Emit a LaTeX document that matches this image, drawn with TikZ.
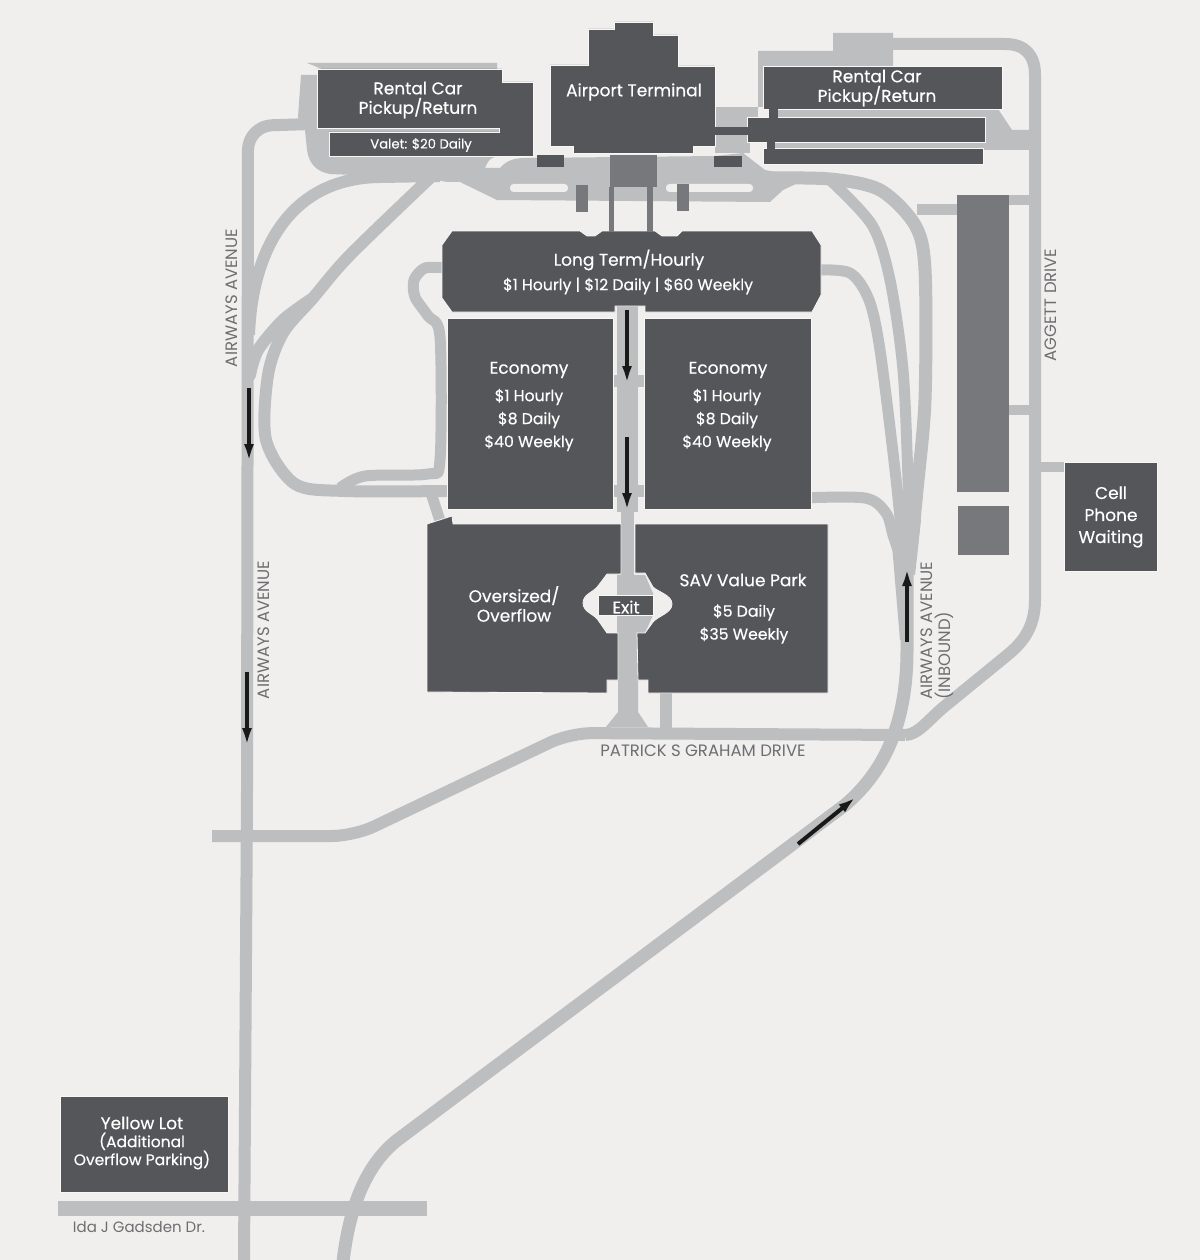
\documentclass[tikz,border=0pt]{standalone}
\usepackage{fontspec}
\setmainfont{Poppins}
\newfontfamily\lotfont[FakeBold=0.35]{Poppins}
\usetikzlibrary{arrows.meta}
\definecolor{mapbg}{HTML}{F0EFED}
\definecolor{roadgray}{HTML}{BCBEC0}
\definecolor{darkblock}{HTML}{55565A}
\definecolor{midblock}{HTML}{77787B}
\definecolor{streettext}{HTML}{6D6E71}
\tikzset{
  road/.style={draw=roadgray, line width=12pt, line join=round},
  plaza/.style={fill=roadgray},
  hole/.style={fill=mapbg},
  block/.style={fill=darkblock, draw=white!50!mapbg, line width=0.8pt},
  greyblock/.style={fill=midblock},
  oneway/.style={draw=black!90, line width=4pt, -{Latex[length=18pt,width=10pt]}},
  lotlabel/.style={text=white, align=center, font=\lotfont\fontsize{17}{19.5}\selectfont},
  pricelabel/.style={text=white, align=center, font=\lotfont\fontsize{15.7}{23}\selectfont},
  streetlabel/.style={text=streettext, font=\fontsize{16.5}{18}\selectfont}
}
\begin{document}
\begin{tikzpicture}[x=1pt,y=-1pt]
  \useasboundingbox[fill=mapbg] (0,0) rectangle (1200,1260);
  % roads
  \draw[road, rounded corners=24pt] (244,1260) -- (247,800) -- (248,126) -- (312,124);
  \draw[road] (249,335) .. controls (252,250) and (290,178) .. (380,177) -- (440,176);
  \draw[road, line cap=round] plot[smooth] coordinates {(250,375) (258,350) (283,320) (313,298)};
  \draw[road] plot[smooth] coordinates {(447,491) (345,491) (295,484) (266,440) (268,375) (283,333) (313,298) (350,255) (432,176)};
  \draw[road, line width=11pt] plot[smooth] coordinates {(445,268) (425,268) (414,280) (415,297) (428,316) (440,337) (440,460) (428,474) (365,476) (340,488)};
  \draw[road, line width=11pt] (431,493) -- (441,524);
  % inbound road
  \draw[road, line width=13pt] (343,1262) .. controls (350,1200) and (370,1160) .. (400,1138) -- (845,805)
    .. controls (880,775) and (907,730) .. (907,650) -- (907,560);
  \draw[road, line width=11pt] plot[smooth] coordinates {(800,498) (865,498) (886,513) (893,535) (898,550)};
  \draw[road, line width=11pt] plot[smooth] coordinates {(815,270) (850,273) (869,300) (880,350) (895,470) (904,560)};
  \draw[road, line width=11pt] plot[smooth] coordinates {(830,180) (872,225) (890,280) (903,370) (908,480) (910,560)};
  \draw[road, line width=13pt] plot[smooth] coordinates {(760,178) (830,179) (880,190) (915,225) (925,270) (925,400) (917,490) (910,560)};
  \fill[plaza] (900,570) -- (908,500) -- (921,520) -- (915,575) -- cycle;
  \fill[plaza] (892,545) -- (902,545) -- (907,640) -- (900,640) -- cycle;
  % agett and patrick
  \draw[road] (880,44) -- (1005,44) .. controls (1025,44) and (1035,55) .. (1035,75) -- (1035,600)
    .. controls (1035,630) and (1020,645) .. (1005,657) -- (945,706) .. controls (929,719) and (918,735) .. (905,735);
  \draw[road, rounded corners=22pt] (905,735) -- (570,733) -- (354,836) -- (212,836);
  \draw[road, line width=15pt] (58,1208) -- (427,1208);
  \draw[road, line width=11pt] (917,209) -- (960,209);
  \draw[road, line width=10pt] (1005,200) -- (1032,200);
  \draw[road, line width=10pt] (1005,410) -- (1032,410);
  \draw[road, line width=10pt] (1038,467) -- (1066,467);
  % terminal plaza
  \fill[plaza] (307,63) -- (497,63) -- (497,75) -- (301,75) -- (298,117) -- (305,130) -- (307,150)
    .. controls (309,165) and (318,172) .. (330,174) -- (427,178) -- (447,182) -- (460,182) -- (497,200) -- (770,202) -- (783,190) -- (800,182)
    -- (775,172) -- (765,170) -- (743,153) -- (715,156) -- (525,158) .. controls (515,158) and (507,160) .. (500,168)
    -- (485,168) .. controls (488,161) and (490,158) .. (495,157) -- (520,130) -- (400,100) -- cycle;
  \fill[hole, rounded corners=3.5pt] (510,184) rectangle (568,192);
  \fill[hole, rounded corners=3.5pt] (666,184) rectangle (753,192);
  \fill[plaza] (758,51) -- (833,51) -- (833,33) -- (893,33) -- (893,70) -- (763,70) -- (763,107) -- (758,107) -- cycle;
  \fill[plaza] (715,107) -- (758,107) -- (758,130) -- (715,130) -- cycle;
  \fill[plaza] (715,133) -- (750,133) -- (750,153) -- (715,153) -- cycle;
  \fill[plaza] (775,109) -- (998,109) -- (1012,130) -- (1030,130) -- (1030,150) -- (775,150) -- cycle;
  % center drive
  \fill[plaza] (617,306) rectangle (638,512);
  \foreach \yy in {375,485} {
    \fill[plaza] (610,\yy) rectangle (647,\yy+12);
  }
  \fill[plaza] (621,512) rectangle (634,576);
  \fill[plaza] (617,575) -- (645,575) -- (653,593) -- (653,615) -- (645,633) -- (617,633) -- cycle;
  \fill[plaza] (618,633) -- (638,633) -- (638,712) -- (648,727) -- (606,727) -- (618,712) -- cycle;
  \fill[plaza] (660,690) rectangle (672,730);
  % lots
  \filldraw[block] (550,65) -- (588,65) -- (588,29) -- (614,29) -- (614,22) -- (653,22) -- (653,35) -- (678,35) -- (678,66)
    -- (715,66) -- (715,146) -- (693,146) -- (693,153) -- (573,153) -- (573,146) -- (550,146) -- cycle;
  \filldraw[block] (317,69) -- (502,69) -- (502,82) -- (533,82) -- (533,156) -- (329,156) -- (329,132) -- (499,132)
    -- (499,128) -- (317,128) -- cycle;
  \filldraw[block] (763,66) rectangle (1002,109);
  \filldraw[block] (747,117) rectangle (985,142);
  \filldraw[block] (763,148) rectangle (983,164);
  \fill[darkblock] (769,108) rectangle (778,118);
  \fill[darkblock] (714,127) rectangle (748,135);
  \fill[darkblock] (767,141) rectangle (775,149);
  \filldraw[block] (442,245) -- (452,231) -- (580,231) -- (587,236) -- (595,236) -- (602,231) -- (655,231) -- (662,236)
    -- (677,236) -- (682,231) -- (812,231) -- (821,245) -- (821,295) -- (812,312) -- (645,312) -- (645,306) -- (615,306) -- (615,312)
    -- (452,312) -- (442,298) -- cycle;
  \filldraw[block] (447,318) rectangle (613,509);
  \filldraw[block] (644,318) rectangle (811,509);
  \filldraw[block] (427,524) -- (452,516) -- (453,524) -- (621,524) -- (621,574) -- (607,574) -- (598,586)
    .. controls (594,592) and (583,594) .. (583,603) .. controls (583,612) and (594,614) .. (598,620)
    -- (607,633) -- (618,633) -- (618,680) -- (607,680) -- (607,693) -- (427,692) -- cycle;
  \filldraw[block] (635,524) -- (828,524) -- (828,693) -- (648,693) -- (648,680) -- (638,680) -- (637,633) -- (645,633) -- (653,622)
    .. controls (658,616) and (672,613) .. (672,604) .. controls (672,595) and (658,592) .. (653,587) -- (645,573) -- (635,573) -- cycle;
  \filldraw[block] (598,595) rectangle (653,615);
  \filldraw[block] (1064,462) rectangle (1157,571);
  \filldraw[block] (60,1096) rectangle (228,1192);
  \fill[darkblock] (537,155) rectangle (564,167);
  \fill[darkblock] (714,156) rectangle (742,167);
  % grey buildings
  \fill[greyblock] (610,155) rectangle (657,187);
  \fill[greyblock] (609,187) rectangle (614,232);
  \fill[greyblock] (647,187) rectangle (653,232);
  \fill[greyblock] (576,185) rectangle (588,212);
  \fill[greyblock] (677,184) rectangle (689,211);
  \fill[greyblock] (957,195) rectangle (1009,492);
  \fill[greyblock] (958,506) rectangle (1009,555);
  % one way arrows
  \draw[oneway] (249,388) -- (249,462);
  \draw[oneway] (247,672) -- (247,746);
  \draw[oneway] (627,310) -- (627,384);
  \draw[oneway] (627,437) -- (627,511);
  \draw[oneway] (907,642) -- (907,568);
  \draw[oneway] (798,844) -- (856,797);
  % lot labels
  \node[lotlabel] (rentalleft) at (418,100) {Rental Car\\Pickup/Return};
  \node[pricelabel, font=\lotfont\fontsize{13.2}{15}\selectfont] (valet) at (421,145) {Valet: \$20 Daily};
  \node[lotlabel] (terminal) at (634,92) {Airport Terminal};
  \node[lotlabel] (rentalright) at (877,88) {Rental Car\\Pickup/Return};
  \node[lotlabel] (longterm) at (629,260) {Long Term/Hourly};
  \node[pricelabel] (longprice) at (628,286) {\$1 Hourly | \$12 Daily | \$60 Weekly};
  \node[lotlabel] (econleft) at (529,370) {Economy};
  \node[pricelabel] (econleftprice) at (529,420) {\$1 Hourly\\\$8 Daily\\\$40 Weekly};
  \node[lotlabel] (econright) at (728,370) {Economy};
  \node[pricelabel] (econrightprice) at (727,420) {\$1 Hourly\\\$8 Daily\\\$40 Weekly};
  \node[lotlabel] (oversized) at (514,604) {Oversized/\\Overflow};
  \node[lotlabel] (savpark) at (743,580) {SAV Value Park};
  \node[pricelabel] (savprice) at (744,624) {\$5 Daily\\\$35 Weekly};
  \node[lotlabel] (exit) at (626,607) {Exit};
  \node[lotlabel, font=\lotfont\fontsize{17}{22}\selectfont] (cell) at (1111,517) {Cell\\Phone\\Waiting};
  \node[lotlabel, font=\lotfont\fontsize{15.5}{18}\selectfont] (yellow) at (142,1143) {{\fontsize{17}{18}\selectfont Yellow Lot}\\(Additional\\Overflow Parking)};
  % street labels
  \node[streetlabel, rotate=90] (airwaysup) at (232,298) {AIRWAYS AVENUE};
  \node[streetlabel, rotate=90] (airwaysdown) at (264,630) {AIRWAYS AVENUE};
  \node[streetlabel, rotate=90] (agett) at (1051,305) {AGGETT DRIVE};
  \node[streetlabel, rotate=90, anchor=west, inner sep=0pt] (inbounda) at (927,700) {AIRWAYS AVENUE};
  \node[streetlabel, rotate=90, anchor=west, inner sep=0pt] (inboundb) at (944,700) {(INBOUND)};
  \node[streetlabel] (patrick) at (703,751) {PATRICK S GRAHAM DRIVE};
  \node[streetlabel, font=\fontsize{15}{16}\selectfont] (ida) at (139,1227) {Ida J Gadsden Dr.};
\end{tikzpicture}
\end{document}
